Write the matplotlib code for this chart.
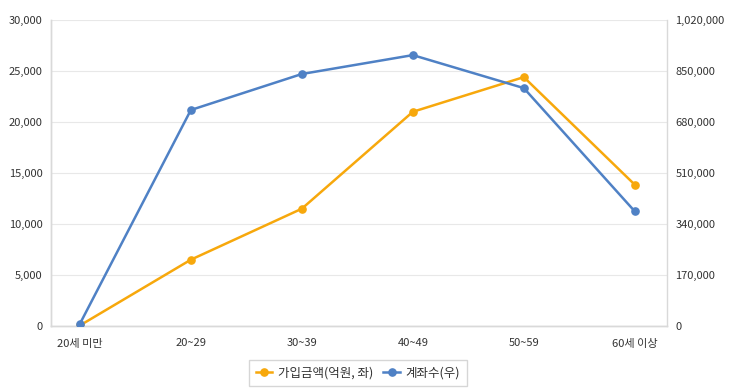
import matplotlib
matplotlib.use("Agg")
import matplotlib.pyplot as plt
from matplotlib.ticker import FuncFormatter

plt.rcParams['font.family'] = ['Noto Sans CJK KR', 'DejaVu Sans']

categories = ['20세 미만', '20~29', '30~39', '40~49', '50~59', '60세 이상']
amount = [50, 6500, 11500, 21000, 24400, 13850]          # 가입금액(억원, 좌)
accounts = [7000, 720000, 840000, 903000, 793000, 382000]  # 계좌수(우)

orange = '#F7A80C'
blue = '#4F81C5'
grid_c = '#E8E8E8'
axis_c = '#D9D9D9'
text_c = '#333333'

fig = plt.figure(figsize=(7.31, 3.88), dpi=100)
ax1 = fig.add_axes([51/731, 1-326/388, (667-51)/731, (326-20)/388])
ax2 = ax1.twinx()

x = list(range(len(categories)))
l1, = ax1.plot(x, amount, color=orange, lw=1.8, marker='o', ms=5.2, label='가입금액(억원, 좌)', zorder=3)
l2, = ax2.plot(x, accounts, color=blue, lw=1.8, marker='o', ms=5.2, label='계좌수(우)', zorder=3)

ax1.set_xlim(-0.26, 5.29)
ax1.set_ylim(0, 30000)
ax2.set_ylim(0, 1020000)
ax1.set_yticks(range(0, 30001, 5000))
ax2.set_yticks(range(0, 1020001, 170000))
fmt = FuncFormatter(lambda v, p: f'{int(v):,}')
ax1.yaxis.set_major_formatter(fmt)
ax2.yaxis.set_major_formatter(fmt)
ax1.set_xticks(x)
ax1.set_xticklabels(categories)

ax1.grid(axis='y', color=grid_c, lw=0.8)
ax1.set_axisbelow(True)
for ax in (ax1, ax2):
    for s in ax.spines.values():
        s.set_color(axis_c)
        s.set_linewidth(1)
    ax.spines['top'].set_visible(False)
    ax.tick_params(length=0, labelsize=8, colors=text_c, pad=6)
ax1.tick_params(axis='x', pad=9)
ax1.spines['right'].set_visible(False)

leg = fig.legend(handles=[l1, l2], loc='center', bbox_to_anchor=(358/731, 1-373/388),
                 ncol=2, frameon=True, fontsize=9, handlelength=1.3, handletextpad=0.5,
                 columnspacing=0.8, borderpad=0.55, fancybox=False)
leg.get_frame().set_edgecolor('#CCCCCC')
leg.get_frame().set_linewidth(1)
for t in leg.get_texts():
    t.set_color(text_c)

fig.savefig('out.png', dpi=100)
